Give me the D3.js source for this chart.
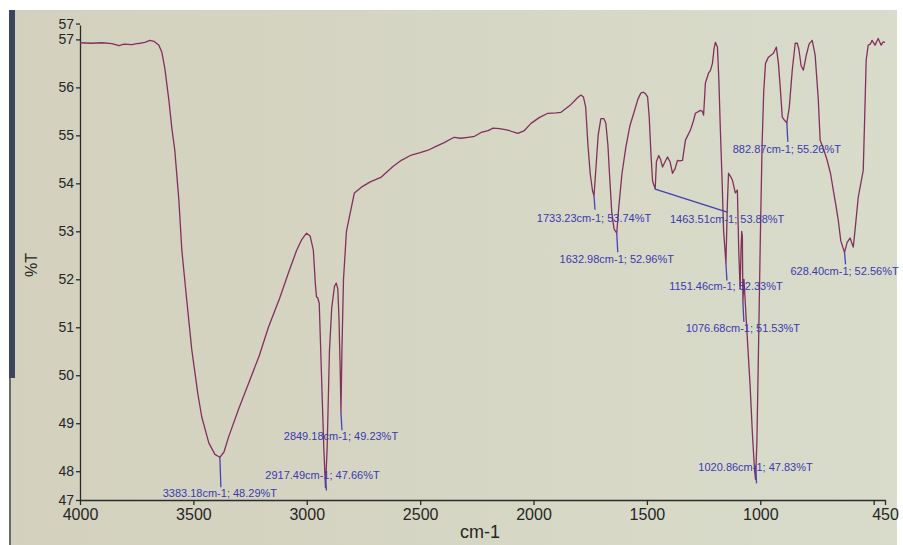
<!DOCTYPE html>
<html><head><meta charset="utf-8">
<script src="https://cdn.jsdelivr.net/npm/d3@7"></script>
<style>body{margin:0;background:#fff}svg{display:block}</style>
</head><body>
<svg id="c" width="903" height="545"></svg>
<script>
// ---- data ----
const wavenumbers = [4000,3950,3903,3859,3828,3806,3771,3750,3732,3714,3692,3674,3652,3639,3626,3608,3595,3582,3564,3551,3530,3507,3480,3463,3432,3405,3383.18,3365,3345,3300,3256,3210,3169,3120,3081,3045,3023,3001,2985,2971,2962,2957,2952,2945,2935,2925,2917.49,2910,2900,2890,2878,2870,2863,2858,2852,2849.18,2845,2838,2825,2812,2790,2759,2720,2671,2620,2583,2539,2500,2465,2430,2394,2350,2320,2289,2260,2231,2200,2179,2150,2113,2090,2069,2040,2011,1975,1937,1900,1879,1840,1805,1791,1780,1770,1760,1750,1740,1733.23,1725,1715,1703,1690,1681,1672,1665,1655,1645,1632.98,1624,1610,1593,1575,1558,1540,1527,1515,1505,1497,1490,1482,1475,1463.51,1458,1448,1440,1431,1420,1409,1398,1387,1376,1365,1355,1343,1330,1308,1295,1286,1264,1255,1250,1242,1228,1220,1211,1204,1198,1189,1183,1176,1168,1162,1151.46,1145,1140,1132,1123,1115,1110,1101,1095,1089,1085,1082,1079,1076.68,1072,1060,1045,1035,1025,1020.86,1015,1008,1000,992,985,977,964,942,929,920,912,903,894,882.87,872,859,846,837,830,820,810,797,785,771,758,744,736,720,705,690,678,665,656,645,628.40,617,604,590,582,568,546,540,533,524,515,507,494,480,467,458,450];
const transmittance = [56.93,56.92,56.93,56.91,56.87,56.90,56.89,56.91,56.92,56.94,56.98,56.96,56.88,56.73,56.40,55.73,55.15,54.69,53.65,52.61,51.60,50.53,49.60,49.13,48.59,48.35,48.29,48.40,48.71,49.30,49.84,50.40,51.00,51.60,52.13,52.60,52.82,52.96,52.90,52.61,51.90,51.63,51.62,51.50,50.00,48.50,47.66,48.50,50.50,51.40,51.85,51.92,51.80,51.20,50.00,49.23,50.50,52.00,53.00,53.30,53.80,53.92,54.03,54.13,54.35,54.48,54.59,54.64,54.69,54.77,54.85,54.96,54.94,54.96,54.98,55.06,55.10,55.15,55.14,55.11,55.07,55.04,55.10,55.25,55.37,55.46,55.47,55.48,55.62,55.79,55.84,55.80,55.59,54.80,54.20,53.85,53.74,54.30,55.00,55.35,55.35,55.25,54.80,54.20,53.40,53.05,52.96,53.50,54.20,54.75,55.20,55.46,55.75,55.88,55.90,55.86,55.80,55.40,54.60,54.05,53.88,54.45,54.58,54.50,54.34,54.45,54.55,54.45,54.21,54.30,54.48,54.47,54.48,54.90,55.11,55.30,55.46,55.52,55.50,55.42,56.09,56.30,56.35,56.50,56.80,56.94,56.84,56.20,55.11,54.00,53.03,52.33,53.59,54.21,54.15,54.07,53.90,53.80,53.86,52.60,51.80,52.60,53.00,52.90,51.53,52.00,51.00,49.80,48.80,48.00,47.83,48.60,50.50,52.80,54.80,55.90,56.50,56.63,56.71,56.84,56.50,56.00,55.38,55.32,55.26,55.59,56.36,56.92,56.92,56.80,56.45,56.36,56.67,56.90,56.98,56.67,55.73,54.90,54.70,54.48,54.20,53.86,53.50,53.23,52.80,52.56,52.77,52.86,52.67,53.03,53.71,54.27,55.30,56.57,56.88,56.90,56.98,56.88,57.02,56.88,56.95,56.94];

const peakWavenumbers = [3383.18,2917.49,2849.18,1733.23,1632.98,1463.51,1151.46,1076.68,1020.86,882.87,628.40];
const peakTransmittance = [48.29,47.66,49.23,53.74,52.96,53.88,52.33,51.53,47.83,55.26,52.56];

const xTicks = [4000,3500,3000,2500,2000,1500,1000,500,450];
const xTickLabels = ["4000","3500","3000","2500","2000","1500","1000","","450"];
const yTicks = [47.4,48,49,50,51,52,53,54,55,56,57,57.33];
const yTickLabels = ["47","48","49","50","51","52","53","54","55","56","57","57"];

// ---- annotation layout (pixel offsets from each peak) ----
const labelLayout = [
  {dx:0,dy:40,s0:0,s1:30},
  {dx:-3,dy:-9,s0:-10,s1:3},
  {dx:0,dy:28,s0:0,s1:18},
  {dx:0,dy:26,s0:0,s1:14},
  {dx:0,dy:30,s0:0,s1:19},
  {dx:72,dy:34,conn:true},
  {dx:0,dy:27,s0:0,s1:17},
  {dx:0,dy:30,s0:0,s1:20},
  {dx:0,dy:-8,s0:-14,s1:4},
  {dx:0,dy:30,s0:0,s1:19},
  {dx:0,dy:23,s0:0,s1:12}
];

const svg = d3.select("#c");
const W = 903, H = 545;

// photo-like background
const defs = svg.append("defs");
const g = defs.append("linearGradient").attr("id","bg").attr("x1","0").attr("x2","1").attr("y1","0").attr("y2","0");
g.append("stop").attr("offset","0").attr("stop-color","#d3d1be");
g.append("stop").attr("offset","0.5").attr("stop-color","#d6d6c4");
g.append("stop").attr("offset","1").attr("stop-color","#d9dccb");
svg.append("rect").attr("width",W).attr("height",H).attr("fill","#ffffff");
svg.append("rect").attr("x",9).attr("y",10).attr("width",888).attr("height",H-10).attr("fill","url(#bg)");
svg.append("rect").attr("x",9).attr("y",10).attr("width",6).attr("height",368).attr("fill","#3b465e");
svg.append("rect").attr("x",9).attr("y",378).attr("width",2).attr("height",H-378).attr("fill","#6c6c62");

const x = d3.scaleLinear().domain([4000,450]).range([80,885]);
const y = d3.scaleLinear().domain([47.4,57.3]).range([500,25]);

const xAxis = d3.axisBottom(x).tickValues(xTicks).tickFormat((d,i)=>xTickLabels[i]).tickSizeInner(5).tickSizeOuter(0).tickPadding(4);
const yAxis = d3.axisLeft(y).tickValues(yTicks).tickFormat((d,i)=>yTickLabels[i]).tickSizeInner(4).tickSizeOuter(0).tickPadding(2);

const gx = svg.append("g").attr("transform","translate(0,500)").call(xAxis);
const gy = svg.append("g").attr("transform","translate(80,0)").call(yAxis);
[gx,gy].forEach(a=>{
  a.selectAll("path,line").attr("stroke","#2b2b28").attr("stroke-width",1.3);
  a.selectAll("text").attr("fill","#262624").style("font-family","'Liberation Sans Narrow','Arial Narrow','Liberation Sans',sans-serif");
});
gx.selectAll("text").style("font-size","16px");
gy.selectAll("text").style("font-size","14px");

svg.append("text").attr("x",460).attr("y",538).text("cm-1")
  .style("font-family","'Liberation Sans',Arial,sans-serif").style("font-size","18px").attr("fill","#262624");
svg.append("text").attr("transform","translate(37,265) rotate(-90)").attr("text-anchor","middle").text("%T")
  .style("font-family","'Liberation Sans',Arial,sans-serif").style("font-size","16px").attr("fill","#262624");

// spectrum
const pts = wavenumbers.map((w,i)=>[w,transmittance[i]]);
svg.append("path").datum(pts)
  .attr("d", d3.line().x(d=>x(d[0])).y(d=>y(d[1])))
  .attr("fill","none").attr("stroke","#82305e").attr("stroke-width",1.3).attr("stroke-linejoin","round");

// peak annotations
const ann = svg.append("g");
peakWavenumbers.forEach((w,i)=>{
  const px = x(w), py = y(peakTransmittance[i]);
  const L = labelLayout[i];
  if (L.conn) {
    ann.append("line").attr("x1",px).attr("y1",py).attr("x2",px+L.dx).attr("y2",py+L.dy-11)
      .attr("stroke","#3f3fb0").attr("stroke-width",1.2);
  } else {
    ann.append("line").attr("x1",px).attr("y1",py+L.s0).attr("x2",px+1).attr("y2",py+L.s1)
      .attr("stroke","#4545bb").attr("stroke-width",1.3);
  }
  ann.append("text").attr("x",px+L.dx).attr("y",py+L.dy).attr("text-anchor","middle")
    .text(`${w.toFixed(2)}cm-1; ${peakTransmittance[i].toFixed(2)}%T`)
    .style("font-family","'Liberation Sans',Arial,sans-serif").style("font-size","11px").attr("fill","#3a3ab0");
});
</script>
</body></html>
